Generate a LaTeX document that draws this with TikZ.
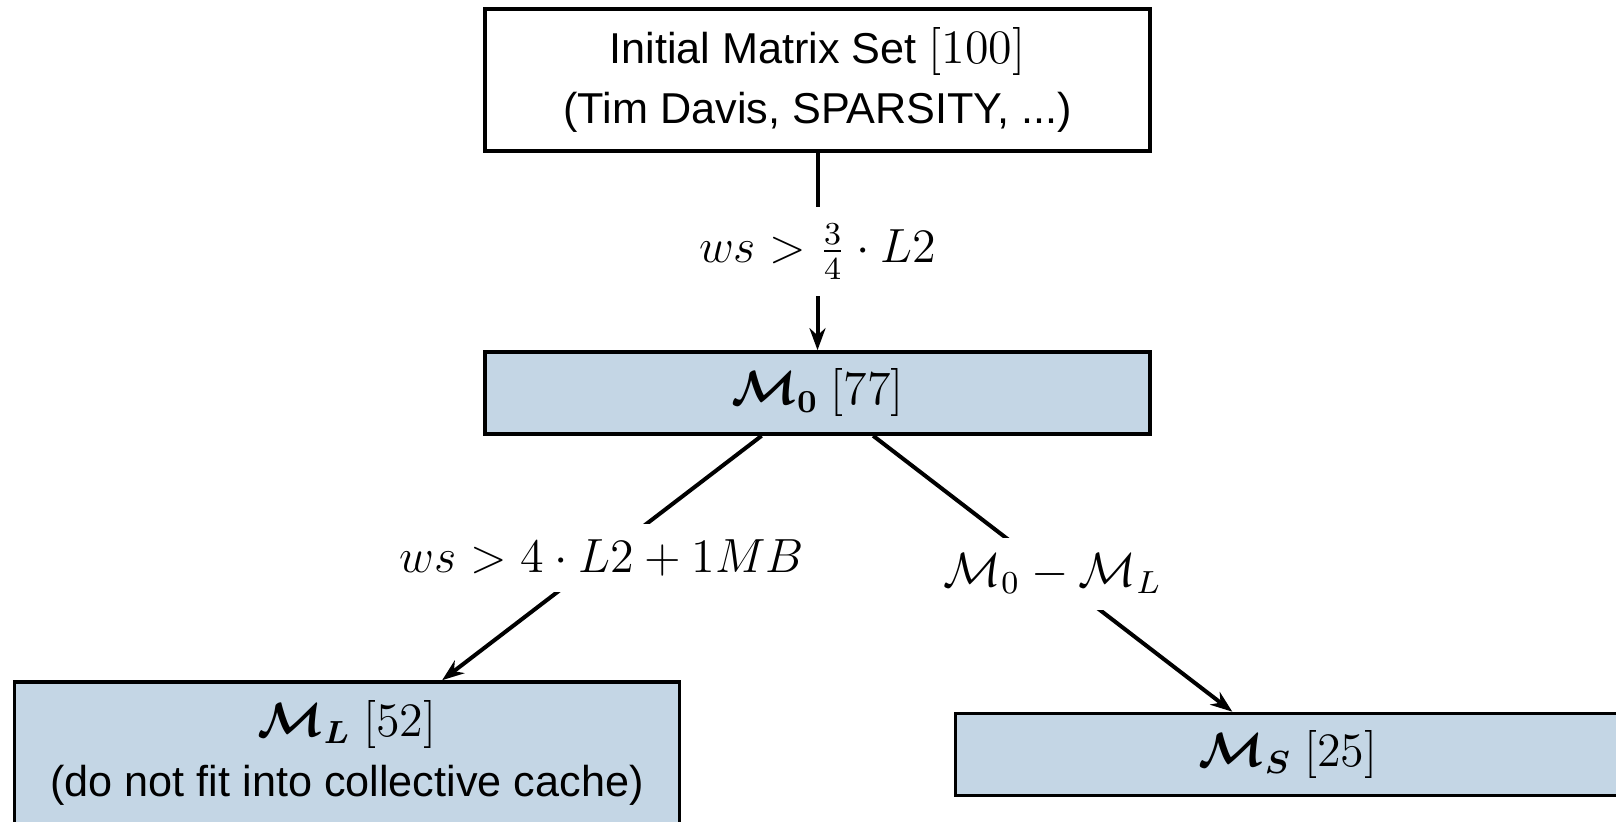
\documentclass[tikz,border=0pt]{standalone}
\usepackage{amsmath,bm}
\usepackage[no-math]{fontspec}
\setmainfont{Liberation Sans}[Scale=0.9]
\usetikzlibrary{arrows.meta}
\definecolor{setblue}{RGB}{196,214,229}
\begin{document}
\begin{tikzpicture}[x=0.25pt,y=-0.25pt,
  font=\fontsize{12}{15}\selectfont,
  setbox/.style={draw, line width=0.9pt, align=center, inner sep=0pt,
    minimum width=166.25pt},
  tallbox/.style={setbox, minimum height=35.5pt},
  flatbox/.style={setbox, minimum height=20.5pt, fill=setblue},
  flow/.style={line width=1pt, -{Stealth[length=5.5pt,width=4pt]}},
  cond/.style={fill=white, inner sep=4pt}]
  \path[use as bounding box] (0,0) rectangle (1616,822);
  \clip (0,0) rectangle (1616,822);

  % matrix sets
  \node[tallbox] (init) at (817.5,80)
    {Initial Matrix Set $[100]$\\(Tim Davis, SPARSITY, ...)};
  \node[flatbox] (m0) at (817.5,393) {$\bm{\mathcal{M}_0}$ $[77]$};
  \node[tallbox, fill=setblue] (ml) at (347,753)
    {$\bm{\mathcal{M}_L}$ $[52]$\\(do not fit into collective cache)};
  \node[flatbox] (ms) at (1288,754.5) {$\bm{\mathcal{M}_S}$ $[25]$};

  % selection criteria
  \draw[flow] (init) -- node[cond] {$ws > \frac{3}{4}\cdot L2$} (m0);
  \draw[flow] (m0) -- node[cond] {$ws > 4\cdot L2 + 1MB$} (ml);
  \draw[flow] (m0) -- node[cond] {$\mathcal{M}_0 - \mathcal{M}_L$} (ms);
\end{tikzpicture}
\end{document}
